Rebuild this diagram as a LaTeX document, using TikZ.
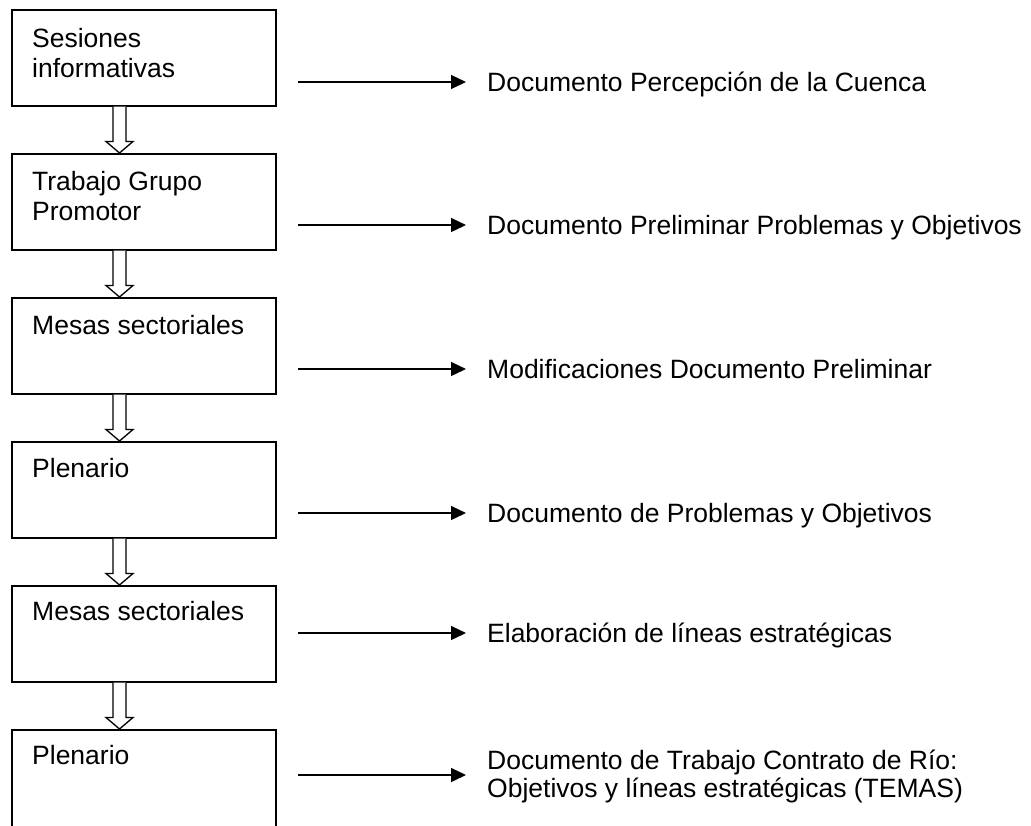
\documentclass[tikz,border=0pt]{standalone}
\usepackage{fontspec}
\setmainfont{Liberation Sans}
\usetikzlibrary{arrows.meta,calc}
\begin{document}
\begin{tikzpicture}[x=1pt,y=-1pt,
  stage/.style={draw,line width=1.5pt,minimum width=264pt,minimum height=96pt,anchor=north west,inner sep=0pt},
  stagetext/.style={anchor=base west,inner sep=0pt,align=left,font=\fontsize{26.5}{30.5}\selectfont},
  outtext/.style={anchor=base west,inner sep=0pt,align=left,font=\fontsize{26.5}{28}\selectfont},
  flow/.style={line width=1.3pt,-{Triangle[length=15pt,width=14pt]}},
  hollow/.style={draw,line width=1.3pt,fill=white,line join=miter}]
\useasboundingbox (0,0) rectangle (1031,825);
% stage boxes
\node[stage] (b1) at (11,9) {};
\node[stage] (b2) at (11,153) {};
\node[stage] (b3) at (11,297) {};
\node[stage] (b4) at (11,441) {};
\node[stage] (b5) at (11,585) {};
\node[stage,minimum height=110pt] (b6) at (11,729) {};
% stage texts (base anchor = baseline of the last line)
\node[stagetext] (t1) at ($(b1.north west)+(21,68.5)$) {Sesiones\\informativas};
\node[stagetext] (t2) at ($(b2.north west)+(21,67.5)$) {Trabajo Grupo\\Promotor};
\node[stagetext] (t3) at ($(b3.north west)+(21,37)$) {Mesas sectoriales};
\node[stagetext] (t4) at ($(b4.north west)+(21,36)$) {Plenario};
\node[stagetext] (t5) at ($(b5.north west)+(21,35)$) {Mesas sectoriales};
\node[stagetext] (t6) at ($(b6.north west)+(21,35)$) {Plenario};
% hollow arrows between stages
\foreach \a/\b in {b1/b2,b2/b3,b3/b4,b4/b5,b5/b6}{
  \draw[hollow] ($(\a.south west)+(102,0)$) -- ++(0,35) -- ++(-7,0)
    -- ($(\b.north west)+(108.5,0)$) -- ($(\a.south west)+(122,35)$)
    -- ++(-7,0) -- ++(0,-35);
}
% output texts
\node[outtext] (o1) at (487,91.5) {Documento Percepción de la Cuenca};
\node[outtext] (o2) at (487,234.5) {Documento Preliminar Problemas y Objetivos};
\node[outtext] (o3) at (487,378.5) {Modificaciones Documento Preliminar};
\node[outtext] (o4) at (487,522.5) {Documento de Problemas y Objetivos};
\node[outtext] (o5) at (487,642.5) {Elaboración de líneas estratégicas};
\node[outtext] (o6) at (487,797.5) {Documento de Trabajo Contrato de Río:\\Objetivos y líneas estratégicas (TEMAS)};
% arrow starts
\coordinate (s1) at (298,82);
\coordinate (s2) at (298,225);
\coordinate (s3) at (298,369);
\coordinate (s4) at (298,513);
\coordinate (s5) at (298,633);
\coordinate (s6) at (298,775);
\foreach \i in {1,...,5}{
  \draw[flow] (s\i) -- ($(o\i.base west)+(-21,-9.5)$);
}
\draw[flow] (s6) -- ($(o6.base west)+(-21,-22.5)$);
\end{tikzpicture}
\end{document}
